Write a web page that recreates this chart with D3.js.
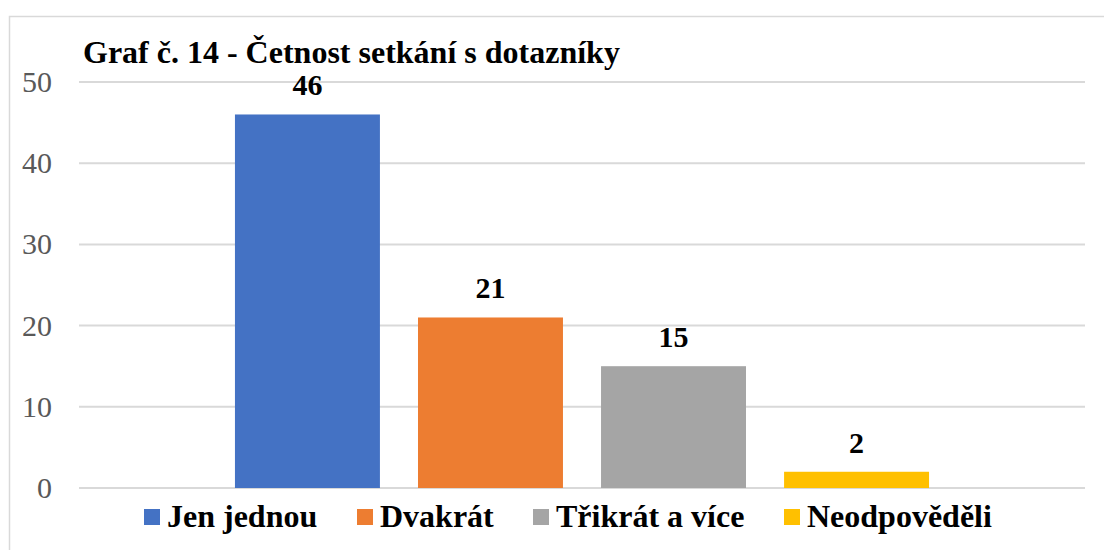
<!DOCTYPE html>
<html>
<head>
<meta charset="utf-8">
<script src="https://cdn.jsdelivr.net/npm/d3@7"></script>
</head>
<body style="margin:0; background:#fff">
<div id="chart"></div>
<script>
// data
var seriesNames = ["Jen jednou", "Dvakrát", "Třikrát a více", "Neodpověděli"];
var seriesValues = [46, 21, 15, 2];
var seriesColors = ["#4472C4", "#ED7D31", "#A5A5A5", "#FFC000"];
var yTicks = [0, 10, 20, 30, 40, 50];
var title = "Graf č. 14 - Četnost setkání s dotazníky";

var fontFam = '"Liberation Serif"';

var svgWidth = 1104, svgHeight = 550;
var margin = { top: 82, bottom: 62, right: 19, left: 79 };
var chartWidth = svgWidth - margin.left - margin.right;
var chartHeight = svgHeight - margin.top - margin.bottom;

var svg = d3.select('#chart').append('svg')
    .attr('width', svgWidth)
    .attr('height', svgHeight);

// outer border of chart area
svg.append('rect')
    .attr('x', 9.5).attr('y', 16.5)
    .attr('width', svgWidth + 10).attr('height', svgHeight)
    .attr('fill', 'none')
    .attr('stroke', '#D9D9D9')
    .attr('stroke-width', 1.5);

var chart = svg.append('g').attr('transform', `translate(${margin.left}, ${margin.top})`);

var x = d3.scaleBand()
    .domain(seriesNames)
    .range([0, chartWidth])
    .paddingInner(0.208)
    .paddingOuter(0.852);

var y = d3.scaleLinear()
    .domain([0, 50])
    .range([chartHeight, 0]);

// gridlines
chart.selectAll('.grid')
    .data(yTicks)
    .enter()
    .append('line')
    .attr('x1', 0).attr('x2', chartWidth)
    .attr('y1', d => y(d)).attr('y2', d => y(d))
    .attr('stroke', '#D9D9D9')
    .attr('stroke-width', 2);

// y tick labels
chart.selectAll('.ytick')
    .data(yTicks)
    .enter()
    .append('text')
    .attr('x', -27)
    .attr('y', d => y(d))
    .attr('dy', '0.33em')
    .attr('text-anchor', 'end')
    .style('font-family', fontFam)
    .style('font-size', '30px')
    .attr('fill', '#595959')
    .text(d => d);

// bars
chart.selectAll('.bar')
    .data(seriesNames)
    .enter()
    .append('rect')
    .attr('x', d => x(d))
    .attr('y', (d, i) => y(seriesValues[i]))
    .attr('width', x.bandwidth())
    .attr('height', (d, i) => chartHeight - y(seriesValues[i]))
    .attr('fill', (d, i) => seriesColors[i]);

// value labels
chart.selectAll('.val')
    .data(seriesNames)
    .enter()
    .append('text')
    .attr('x', d => x(d) + x.bandwidth() / 2)
    .attr('y', (d, i) => y(seriesValues[i]) - 19)
    .attr('text-anchor', 'middle')
    .style('font-family', fontFam)
    .style('font-size', '30px')
    .style('font-weight', 'bold')
    .attr('fill', '#000')
    .text((d, i) => seriesValues[i]);

// title
svg.append('text')
    .attr('x', 83)
    .attr('y', 63)
    .style('font-family', fontFam)
    .style('font-size', '32px')
    .style('font-weight', 'bold')
    .attr('fill', '#000')
    .text(title);

// legend
var legendX = [144, 357, 533, 784];
var legend = svg.selectAll('.legend')
    .data(seriesNames)
    .enter()
    .append('g')
    .attr('transform', (d, i) => `translate(${legendX[i]}, 509)`);
legend.append('rect')
    .attr('width', 16).attr('height', 16)
    .attr('fill', (d, i) => seriesColors[i]);
legend.append('text')
    .attr('x', 23)
    .attr('y', 18)
    .style('font-family', fontFam)
    .style('font-size', '32px')
    .style('font-weight', 'bold')
    .attr('fill', '#000')
    .text(d => d);
</script>
</body>
</html>
